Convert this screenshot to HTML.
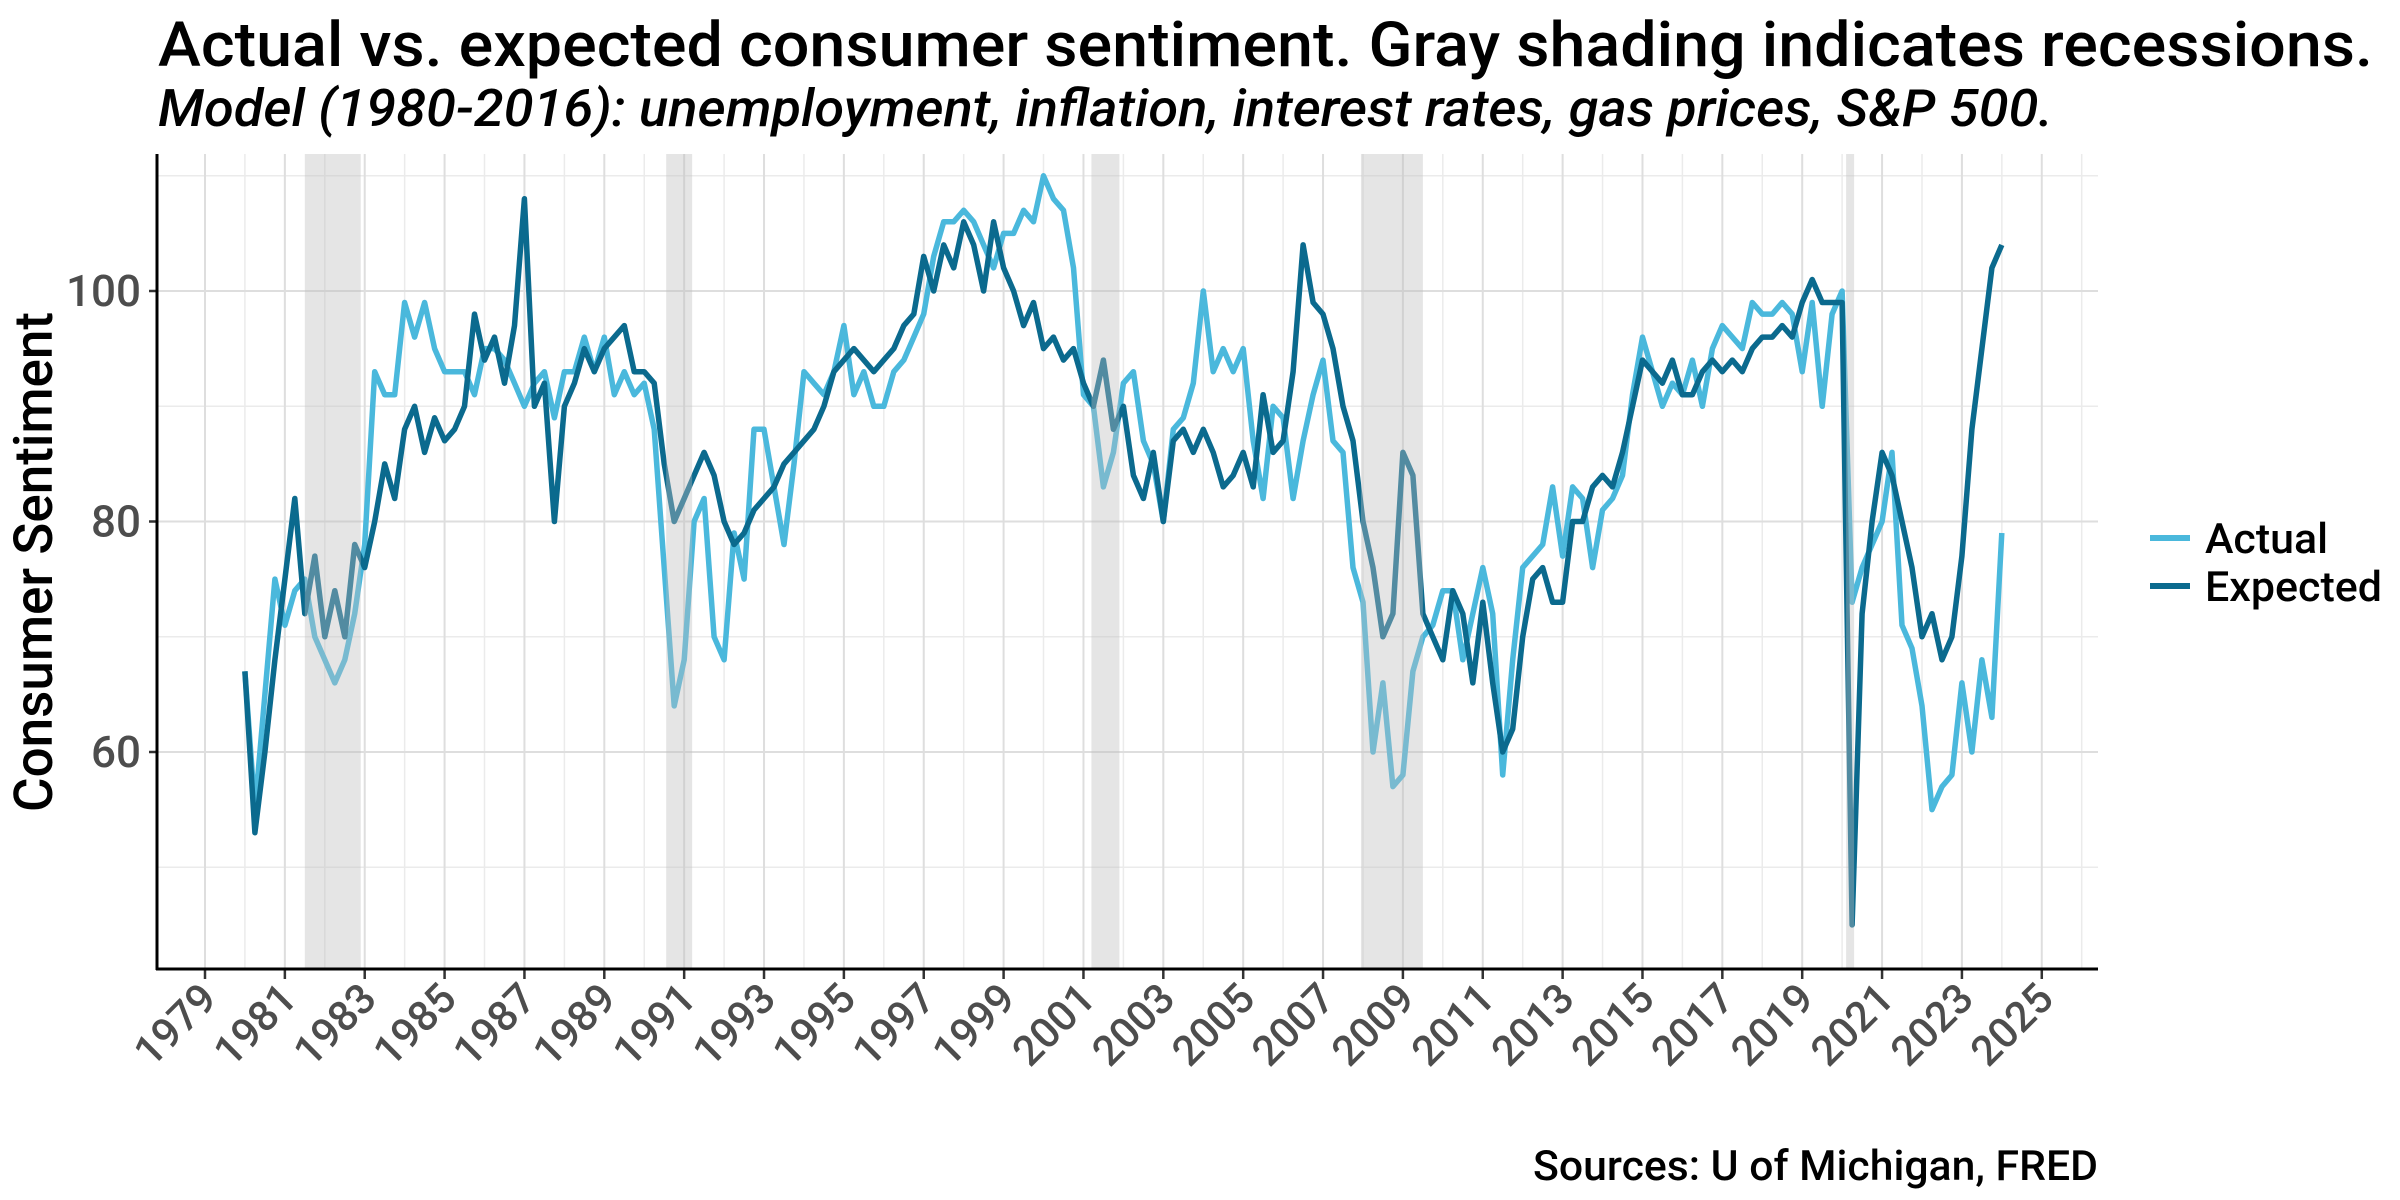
<!DOCTYPE html>
<html><head><meta charset="utf-8">
<style>
body{margin:0;background:#fff;}
svg{display:block;font-family:"Roboto","Liberation Sans",sans-serif;}
</style></head>
<body>
<svg id="chart" width="2400" height="1200" viewBox="0 0 2400 1200" xmlns="http://www.w3.org/2000/svg">
<text x="158" y="66" font-size="62" font-weight="500" textLength="2215" lengthAdjust="spacingAndGlyphs" fill="#000">Actual vs. expected consumer sentiment.  Gray shading indicates recessions.</text>
<text x="158" y="126" font-size="52" font-style="italic" font-weight="500" textLength="1895" lengthAdjust="spacingAndGlyphs" fill="#000">Model (1980-2016): unemployment, inflation, interest rates, gas prices, S&amp;P 500.</text>
<g id="grid"></g>
<g id="series"></g>
<g id="shades"></g>
<g id="axes"></g>
<text transform="translate(52,562) rotate(-90)" text-anchor="middle" font-size="54" font-weight="500" textLength="500" lengthAdjust="spacingAndGlyphs" fill="#000">Consumer Sentiment</text>
<g>
<line x1="2150" y1="538" x2="2190" y2="538" stroke="#4ab8dc" stroke-width="6"/>
<text x="2205" y="553" font-size="42" font-weight="500" textLength="123" lengthAdjust="spacingAndGlyphs" fill="#000">Actual</text>
<line x1="2150" y1="586" x2="2190" y2="586" stroke="#0b6a8e" stroke-width="6"/>
<text x="2205" y="601" font-size="42" font-weight="500" textLength="177" lengthAdjust="spacingAndGlyphs" fill="#000">Expected</text>
</g>
<text x="2098" y="1180" text-anchor="end" font-size="42" font-weight="500" textLength="565" lengthAdjust="spacingAndGlyphs" fill="#000">Sources: U of Michigan, FRED</text>
</svg>
<script>
const startYear = 1980;
const stepYears = 0.25;
const actualValues = [67,55,65,75, 71,74,75,70, 68,66,68,72, 78,93,91,91, 99,96,99,95, 93,93,93,91, 95,95,94,92, 90,92,93,89, 93,93,96,93, 96,91,93,91, 92,88,76,64, 68,80,82,70, 68,79,75,88, 88,83,78,85, 93,92,91,93, 97,91,93,90, 90,93,94,96, 98,103,106,106, 107,106,104,102, 105,105,107,106, 110,108,107,102, 91,90,83,86, 92,93,87,85, 80,88,89,92, 100,93,95,93, 95,87,82,90, 89,82,87,91, 94,87,86,76, 73,60,66,57, 58,67,70,71, 74,74,68,72, 76,72,58,68, 76,77,78,83, 77,83,82,76, 81,82,84,91, 96,93,90,92, 91,94,90,95, 97,96,95,99, 98,98,99,98, 93,99,90,98, 100,73,76,78, 80,86,71,69, 64,55,57,58, 66,60,68,63, 79];
const expectedValues = [67,53,60,68, 75,82,72,77, 70,74,70,78, 76,80,85,82, 88,90,86,89, 87,88,90,98, 94,96,92,97, 108,90,92,80, 90,92,95,93, 95,96,97,93, 93,92,85,80, 82,84,86,84, 80,78,79,81, 82,83,85,86, 87,88,90,93, 94,95,94,93, 94,95,97,98, 103,100,104,102, 106,104,100,106, 102,100,97,99, 95,96,94,95, 92,90,94,88, 90,84,82,86, 80,87,88,86, 88,86,83,84, 86,83,91,86, 87,93,104,99, 98,95,90,87, 80,76,70,72, 86,84,72,70, 68,74,72,66, 73,66,60,62, 70,75,76,73, 73,80,80,83, 84,83,86,90, 94,93,92,94, 91,91,93,94, 93,94,93,95, 96,96,97,96, 99,101,99,99, 99,45,72,80, 86,84,80,76, 70,72,68,70, 77,88,95,102, 104];
const recessionStarts = [1981.5, 1990.55, 2001.2, 2007.95, 2020.1];
const recessionEnds = [1982.9, 1991.2, 2001.9, 2009.5, 2020.3];
const xTickYears = [1979,1981,1983,1985,1987,1989,1991,1993,1995,1997,1999,2001,2003,2005,2007,2009,2011,2013,2015,2017,2019,2021,2023,2025];
const yTickValues = [60,80,100];
const yMinorValues = [50,70,90,110];

const L=157,R=2098,T=154,B=969;
const NS="http://www.w3.org/2000/svg";
function xs(yr){return 205+(yr-1979)*39.93;}
function ys(v){return 291+(100-v)*11.525;}
function mk(tag,attrs,parent){const e=document.createElementNS(NS,tag);for(const k in attrs)e.setAttribute(k,attrs[k]);parent.appendChild(e);return e;}
const grid=document.getElementById('grid'),axes=document.getElementById('axes'),series=document.getElementById('series'),shades=document.getElementById('shades');

yMinorValues.forEach(v=>{const l=mk('line',{x1:L,x2:R,y1:ys(v),y2:ys(v),stroke:'#ebebeb','stroke-width':1.5},grid);

});
xTickYears.forEach(yr=>{const l=mk('line',{x1:xs(yr+1),x2:xs(yr+1),y1:T,y2:B,stroke:'#ebebeb','stroke-width':1.5},grid);

});
yTickValues.forEach(v=>{const l=mk('line',{x1:L,x2:R,y1:ys(v),y2:ys(v),stroke:'#dedede','stroke-width':2},grid);


const t=mk('text',{x:L-16,y:ys(v)+15,'text-anchor':'end','font-size':44,'font-weight':'500',fill:'#4d4d4d'},axes);t.textContent=v;


const tk=mk('line',{x1:L-8,x2:L,y1:ys(v),y2:ys(v),stroke:'#333','stroke-width':2.5},axes);

});
xTickYears.forEach(yr=>{const x=xs(yr);
const l=mk('line',{x1:x,x2:x,y1:T,y2:B,stroke:'#dedede','stroke-width':2},grid);


const tk=mk('line',{x1:x,x2:x,y1:B,y2:B+10,stroke:'#333','stroke-width':2.5},axes);


const t=mk('text',{x:x+14,y:B+32,'text-anchor':'end','font-size':42,'font-weight':'500',fill:'#4d4d4d',transform:`rotate(-45 ${x+14} ${B+32})`},axes);t.textContent=yr;

});

function pathFor(vals){return vals.map((v,i)=>(i?'L':'M')+xs(startYear+i*stepYears).toFixed(1)+','+ys(v).toFixed(1)).join(' ');}
const pa=mk('path',{d:pathFor(actualValues),fill:'none',stroke:'#4ab8dc','stroke-width':5.5,'stroke-linejoin':'round'},series);


const pe=mk('path',{d:pathFor(expectedValues),fill:'none',stroke:'#0b6a8e','stroke-width':5.5,'stroke-linejoin':'round'},series);



recessionStarts.forEach((s,i)=>{const r=mk('rect',{x:xs(s),y:T,width:xs(recessionEnds[i])-xs(s),height:B-T,fill:'#bdbdbd','fill-opacity':0.4},shades);

});

const ya=mk('line',{x1:L,x2:L,y1:T,y2:B+1,stroke:'#000','stroke-width':3},axes);


const xa=mk('line',{x1:L-1,x2:R,y1:B,y2:B,stroke:'#000','stroke-width':3},axes);


</script>
</body></html>
